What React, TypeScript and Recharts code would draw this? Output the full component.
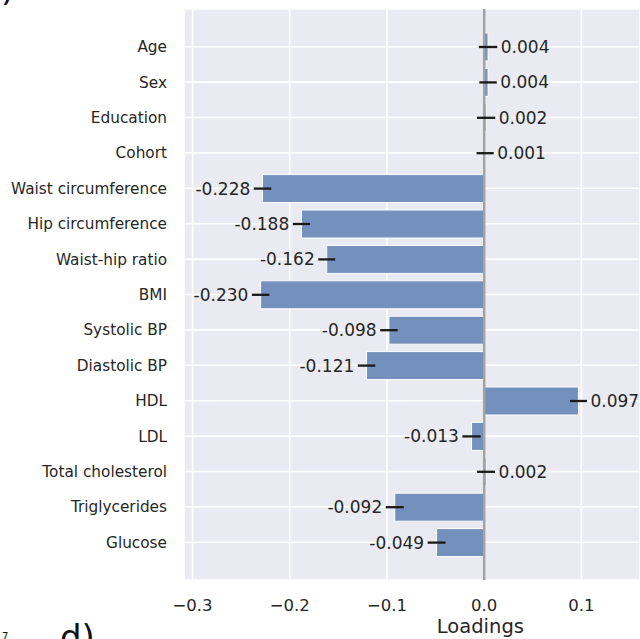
import React from 'react';
import { BarChart, Bar, XAxis, YAxis, CartesianGrid, ErrorBar, LabelList, ReferenceLine } from 'recharts';

const categories = [
  'Age', 'Sex', 'Education', 'Cohort', 'Waist circumference', 'Hip circumference',
  'Waist-hip ratio', 'BMI', 'Systolic BP', 'Diastolic BP', 'HDL', 'LDL',
  'Total cholesterol', 'Triglycerides', 'Glucose',
];
const loadings = [0.004, 0.004, 0.002, 0.001, -0.228, -0.188, -0.162, -0.23, -0.098, -0.121, 0.097, -0.013, 0.002, -0.092, -0.049];
const errors = [0.0095, 0.009, 0.0094, 0.0088, 0.009, 0.0089, 0.0087, 0.009, 0.009, 0.009, 0.0088, 0.0094, 0.0092, 0.0093, 0.0092];
const xTicks = [-0.3, -0.2, -0.1, 0, 0.1];

const X_MIN = -0.3088;
const X_MAX = 0.1603;
const CHART_W = 640;
const CHART_H = 639;
const Y_AXIS_W = 184;
const PLOT_W = CHART_W - Y_AXIS_W;
const PPU = PLOT_W / (X_MAX - X_MIN);
const FONT = '"DejaVu Sans", sans-serif';
const TEXT = '#262626';

const data = categories.map((name, i) => ({ name, loading: loadings[i], err: errors[i] }));

const fmtTick = (v: number) => (v < 0 ? '\u2212' : '') + Math.abs(v).toFixed(1);

const ValueLabel = (props: any) => {
  const vb = props.viewBox || props;
  const x = Number(vb.x ?? props.x);
  const y = Number(vb.y ?? props.y);
  const w = Number(vb.width ?? props.width);
  const h = Number(vb.height ?? props.height);
  const idx = Number(props.index);
  const v = Number(props.value);
  const err = errors[idx] ?? 0.009;
  const end = v >= 0 ? Math.max(x, x + w) : Math.min(x, x + w);
  const errPx = err * PPU;
  const gap = 3.5;
  const tx = v >= 0 ? end + errPx + gap : end - errPx - gap;
  return (
    <text
      x={tx}
      y={y + h / 2}
      textAnchor={v >= 0 ? 'start' : 'end'}
      dominantBaseline="central"
      fontSize={17}
      fontFamily={FONT}
      fill={TEXT}
    >
      {v.toFixed(3)}
    </text>
  );
};

const AxisTitle = (props: any) => {
  const vb = props.viewBox || {};
  return (
    <text x={vb.x + vb.width * 0.65} y={633} textAnchor="middle" fontSize={19.5} fontFamily={FONT} fill={TEXT}>
      Loadings
    </text>
  );
};

export default function App() {
  return (
    <div style={{ position: 'absolute', left: 0, top: 0, width: CHART_W, height: CHART_H, overflow: 'hidden', background: '#fff' }}>
      <BarChart
        width={CHART_W}
        height={CHART_H}
        data={data}
        layout="vertical"
        margin={{ top: 9, right: 0, bottom: 0, left: 0 }}
      >
        <CartesianGrid fill="#EAEAF2" fillOpacity={1} stroke="#ffffff" strokeWidth={1.6} />
        <XAxis
          type="number"
          domain={[X_MIN, X_MAX]}
          ticks={xTicks}
          allowDataOverflow
          tickFormatter={fmtTick}
          axisLine={false}
          tickLine={false}
          tickSize={0}
          tickMargin={19}
          height={59}
          tick={{ fontSize: 16.5, fontFamily: FONT, fill: TEXT }}
          label={<AxisTitle />}
        />
        <YAxis
          type="category"
          dataKey="name"
          width={Y_AXIS_W}
          axisLine={false}
          tickLine={false}
          tickSize={0}
          tickMargin={17}
          interval={0}
          padding={{ top: 20, bottom: 20 }}
          tick={{ fontSize: 15.3, fontFamily: FONT, fill: TEXT }}
        />
        <ReferenceLine x={0} stroke="#A3A3A3" strokeWidth={2.5} />
        <Bar dataKey="loading" fill="#7491BD" stroke="#ffffff" strokeWidth={1} barSize={28} isAnimationActive={false}>
          <ErrorBar dataKey="err" direction="x" width={0} stroke="#1a1a1a" strokeWidth={2.3} isAnimationActive={false} />
          <LabelList dataKey="loading" content={<ValueLabel />} />
        </Bar>
      </BarChart>
      <svg width={CHART_W} height={CHART_H} style={{ position: 'absolute', left: 0, top: 0, pointerEvents: 'none' }}>
        <text x={60} y={649} fontSize={34} fontFamily={FONT} fill="#111">d)</text>
        <text x={2} y={640} fontSize={10} fontFamily={FONT} fill="#111">7</text>
        <text x={1} y={1} fontSize={34} fontFamily={FONT} fill="#111">)</text>
      </svg>
    </div>
  );
}
